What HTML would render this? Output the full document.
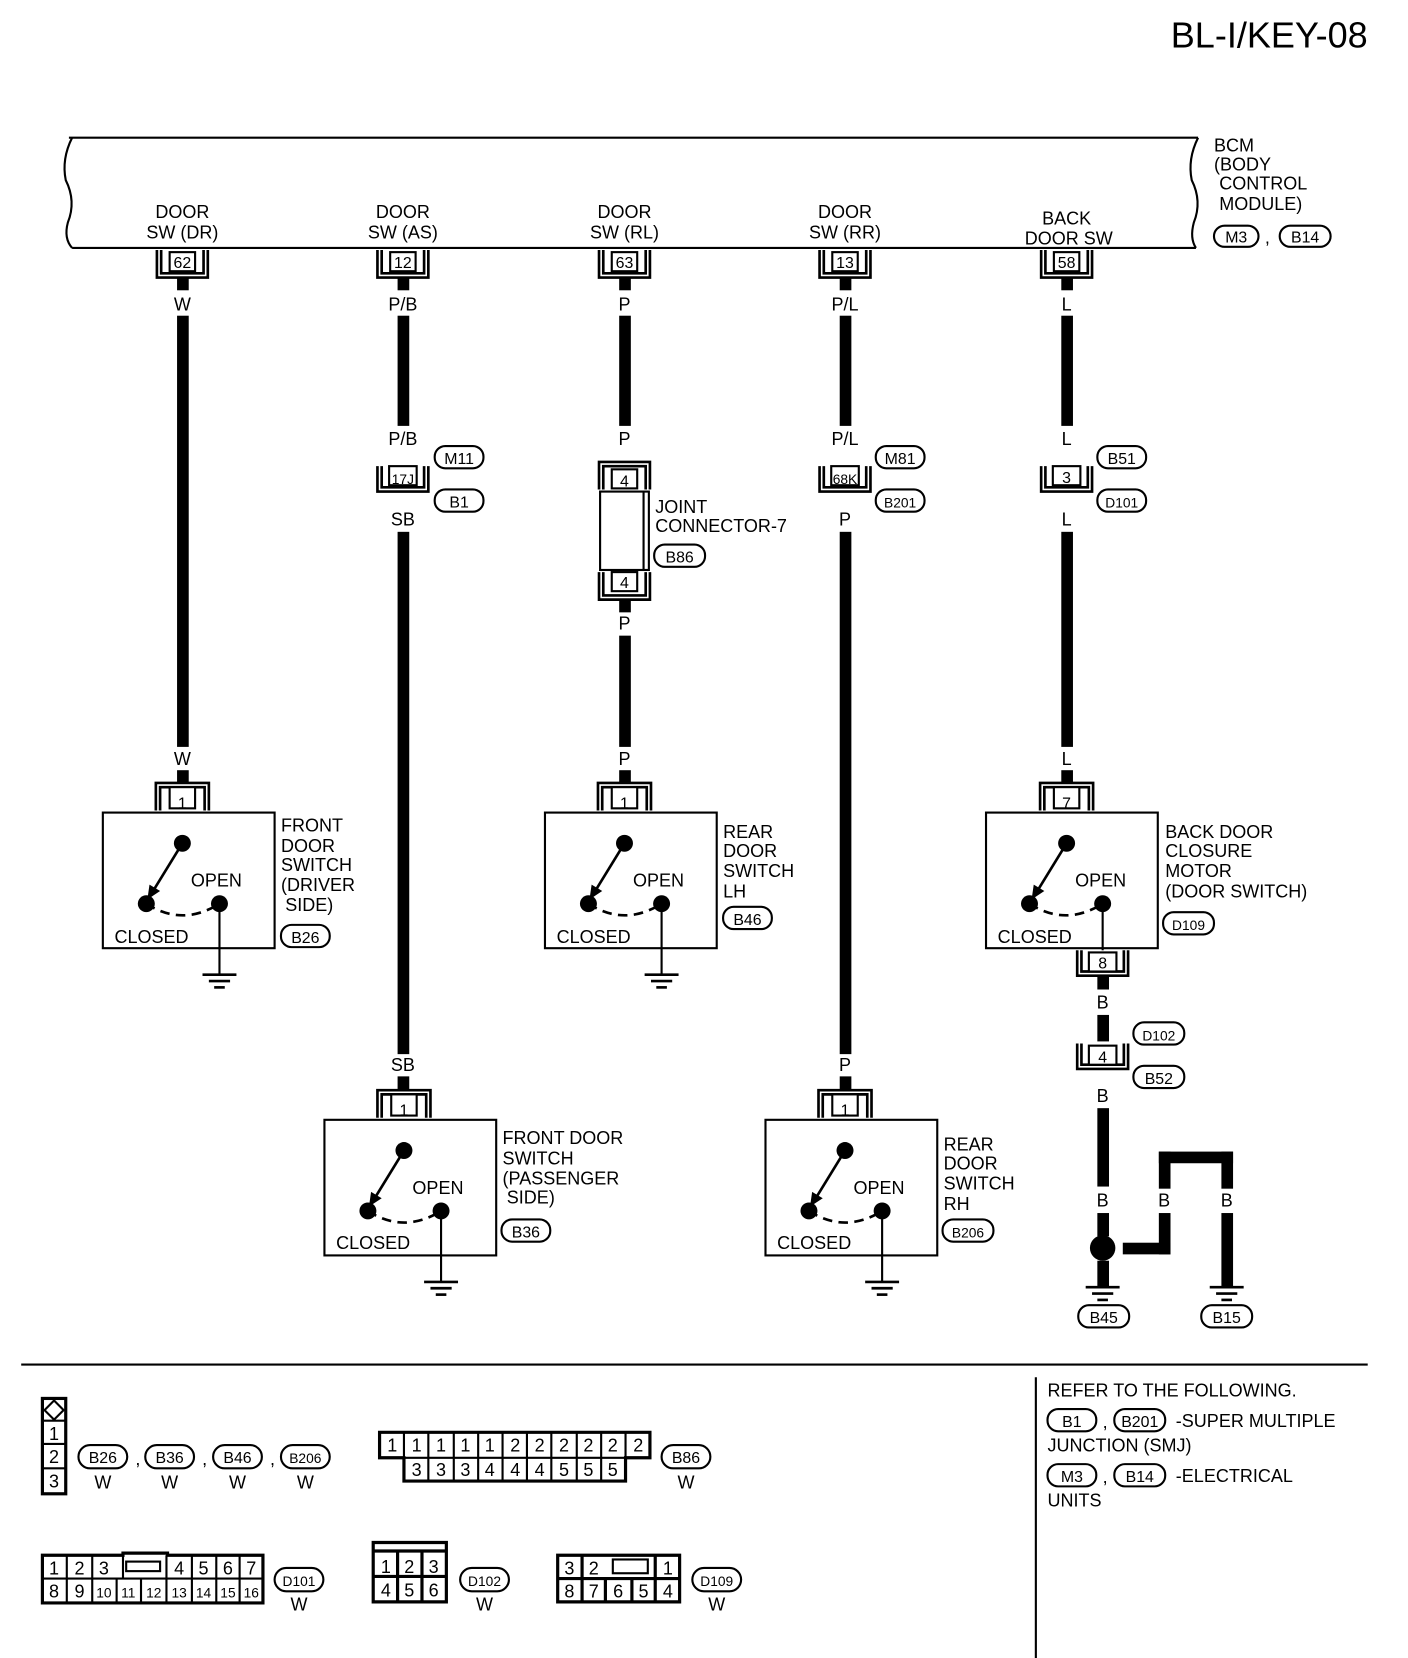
<!DOCTYPE html>
<html><head><meta charset="utf-8"><style>
html,body{margin:0;padding:0;background:#fff}
svg{display:block}
text{font-family:"Liberation Sans",sans-serif;font-size:17px;fill:#000}
.s{font-size:15px}
.c{text-anchor:middle}
</style></head><body>
<svg width="1408" height="1658" viewBox="0 0 1328 1565" preserveAspectRatio="none" xmlns="http://www.w3.org/2000/svg">
<defs>
<g id="sw">
<rect x="0" y="0" width="162" height="128" fill="none" stroke="#000" stroke-width="2"/>
<circle cx="75" cy="29" r="8"/>
<line x1="75" y1="29" x2="48" y2="73" stroke="#000" stroke-width="2.5"/>
<path d="M42,82 L44,68 L54,74 Z"/>
<circle cx="41" cy="86" r="8"/><circle cx="110" cy="86" r="8"/>
<path d="M41,86 Q75,108 110,86" fill="none" stroke="#000" stroke-width="2.5" stroke-dasharray="9,6"/>
<line x1="110" y1="86" x2="110" y2="153" stroke="#000" stroke-width="2"/>
<path d="M50,-2 V-28 H100 V-2 M54,-2 V-24 H96 V-2" fill="none" stroke="#000" stroke-width="2.5"/>
<rect x="63" y="-24" width="24" height="20" fill="#fff" stroke="#000" stroke-width="2"/>
</g>
<g id="gnd" stroke="#000" stroke-width="2.5"><line x1="-16" y1="0" x2="16" y2="0"/><line x1="-10" y1="6" x2="10" y2="6"/><line x1="-5" y1="12" x2="5" y2="12"/></g>
<g id="tc" fill="none" stroke="#000" stroke-width="2.5"><path d="M-24,0 V26 H24 V0 M-20,0 V22 H20 V0"/><rect x="-12" y="2" width="24" height="18" fill="#fff" stroke-width="2"/></g>
</defs>

<text x="1290" y="45" style="font-size:34px" text-anchor="end">BL-I/KEY-08</text>

<path d="M65,130 H1130 M68,234 H1128" stroke="#000" stroke-width="2"/>
<path d="M68,130 Q58,150 62,170 Q72,190 64,210 Q60,225 68,234" fill="none" stroke="#000" stroke-width="2"/>
<path d="M1130,130 Q1120,150 1124,170 Q1134,190 1126,210 Q1122,225 1128,234" fill="none" stroke="#000" stroke-width="2"/>
<text x="1145" y="143">BCM</text><text x="1145" y="161">(BODY</text><text x="1150" y="179">CONTROL</text><text x="1150" y="198">MODULE)</text>
<rect x="1145" y="213" width="42" height="20" rx="10" fill="none" stroke="#000" stroke-width="2"/><text x="1166" y="229" class="c s">M3</text>
<text x="1193" y="230">,</text>
<rect x="1207" y="213" width="48" height="20" rx="10" fill="none" stroke="#000" stroke-width="2"/><text x="1231" y="229" class="c s">B14</text>

<text x="172" y="206" class="c">DOOR</text><text x="172" y="225" class="c">SW (DR)</text>
<text x="380" y="206" class="c">DOOR</text><text x="380" y="225" class="c">SW (AS)</text>
<text x="589" y="206" class="c">DOOR</text><text x="589" y="225" class="c">SW (RL)</text>
<text x="797" y="206" class="c">DOOR</text><text x="797" y="225" class="c">SW (RR)</text>
<text x="1006" y="212" class="c">BACK</text><text x="1008" y="231" class="c">DOOR SW</text>

<use href="#tc" x="172" y="236"/><text x="172" y="253" class="c s">62</text>
<use href="#tc" x="380" y="236"/><text x="380" y="253" class="c s">12</text>
<use href="#tc" x="589" y="236"/><text x="589" y="253" class="c s">63</text>
<use href="#tc" x="797" y="236"/><text x="797" y="253" class="c s">13</text>
<use href="#tc" x="1006" y="236"/><text x="1006" y="253" class="c s">58</text>

<g fill="#000">
<rect x="167" y="262" width="11" height="12"/><text x="172" y="293" class="c">W</text>
<rect x="167" y="298" width="11" height="407"/><text x="172" y="722" class="c">W</text>
<rect x="167" y="727" width="11" height="12"/>
<rect x="375" y="262" width="11" height="12"/><text x="380" y="293" class="c">P/B</text>
<rect x="375" y="298" width="11" height="104"/><text x="380" y="420" class="c">P/B</text>
<text x="380" y="496" class="c">SB</text>
<rect x="375" y="502" width="11" height="493"/><text x="380" y="1011" class="c">SB</text>
<rect x="375" y="1016" width="11" height="12"/>
<rect x="584" y="262" width="11" height="12"/><text x="589" y="293" class="c">P</text>
<rect x="584" y="298" width="11" height="104"/><text x="589" y="420" class="c">P</text>
<rect x="584" y="566" width="11" height="12"/><text x="589" y="594" class="c">P</text>
<rect x="584" y="600" width="11" height="105"/><text x="589" y="722" class="c">P</text>
<rect x="584" y="727" width="11" height="12"/>
<rect x="792" y="262" width="11" height="12"/><text x="797" y="293" class="c">P/L</text>
<rect x="792" y="298" width="11" height="104"/><text x="797" y="420" class="c">P/L</text>
<text x="797" y="496" class="c">P</text>
<rect x="792" y="502" width="11" height="493"/><text x="797" y="1011" class="c">P</text>
<rect x="792" y="1016" width="11" height="12"/>
<rect x="1001" y="262" width="11" height="12"/><text x="1006" y="293" class="c">L</text>
<rect x="1001" y="298" width="11" height="104"/><text x="1006" y="420" class="c">L</text>
<text x="1006" y="496" class="c">L</text>
<rect x="1001" y="502" width="11" height="203"/><text x="1006" y="722" class="c">L</text>
<rect x="1001" y="727" width="11" height="12"/>
<rect x="1035" y="922" width="11" height="12"/><text x="1040" y="952" class="c">B</text>
<rect x="1035" y="958" width="11" height="25"/>
<text x="1040" y="1040" class="c">B</text>
<rect x="1035" y="1046" width="11" height="74"/><text x="1040" y="1139" class="c">B</text>
<rect x="1035" y="1145" width="11" height="22"/>
<circle cx="1040" cy="1178" r="12"/>
<rect x="1035" y="1190" width="11" height="24"/>
<rect x="1059" y="1173" width="45" height="11"/>
<rect x="1093" y="1145" width="11" height="39"/><text x="1098" y="1139" class="c">B</text>
<rect x="1093" y="1087" width="11" height="35"/>
<rect x="1093" y="1087" width="70" height="11"/>
<rect x="1152" y="1087" width="11" height="35"/><text x="1157" y="1139" class="c">B</text>
<rect x="1152" y="1145" width="11" height="69"/>
</g>
<use href="#gnd" x="1040" y="1215"/><use href="#gnd" x="1157" y="1215"/>
<rect x="1017" y="1232" width="48" height="21" rx="10" fill="none" stroke="#000" stroke-width="2"/><text x="1041" y="1249" class="c s">B45</text>
<rect x="1133" y="1232" width="48" height="21" rx="10" fill="none" stroke="#000" stroke-width="2"/><text x="1157" y="1249" class="c s">B15</text>

<g fill="none" stroke="#000" stroke-width="2.5">
<path d="M356,440 V464 H404 V440 M360,440 V460 H400 V440"/>
<path d="M773,440 V464 H821 V440 M777,440 V460 H817 V440"/>
<path d="M982,440 V464 H1030 V440 M986,440 V460 H1026 V440"/>
<path d="M1016,985 V1009 H1064 V985 M1020,985 V1005 H1060 V985"/>
<path d="M1016,897 V921 H1064 V897 M1020,897 V917 H1060 V897"/>
</g>
<g fill="#fff" stroke="#000" stroke-width="2">
<rect x="367" y="440" width="26" height="18"/><rect x="784" y="440" width="26" height="18"/><rect x="993" y="440" width="26" height="18"/>
<rect x="1027" y="987" width="26" height="18"/><rect x="1027" y="899" width="26" height="18"/>
</g>
<text x="380" y="457" class="c" style="font-size:13px">17J</text>
<text x="797" y="457" class="c" style="font-size:13px">68K</text>
<text x="1006" y="456" class="c s">3</text>
<text x="1040" y="1003" class="c s">4</text>
<text x="1040" y="914" class="c s">8</text>

<g fill="none" stroke="#000" stroke-width="2">
<rect x="410" y="421" width="46" height="21" rx="10"/><rect x="410" y="462" width="46" height="21" rx="10"/>
<rect x="826" y="421" width="46" height="21" rx="10"/><rect x="826" y="462" width="46" height="21" rx="10"/>
<rect x="1035" y="421" width="46" height="21" rx="10"/><rect x="1035" y="462" width="46" height="21" rx="10"/>
<rect x="1069" y="965" width="48" height="21" rx="10"/><rect x="1069" y="1006" width="48" height="21" rx="10"/>
<rect x="617" y="514" width="48" height="21" rx="10"/>
<rect x="265" y="873" width="46" height="21" rx="10"/><rect x="682" y="856" width="46" height="21" rx="10"/>
<rect x="1097" y="861" width="48" height="21" rx="10"/><rect x="473" y="1151" width="46" height="21" rx="10"/>
<rect x="889" y="1151" width="48" height="21" rx="10"/>
</g>
<g class="s">
<text x="433" y="438" class="c s">M11</text><text x="433" y="479" class="c s">B1</text>
<text x="849" y="438" class="c s">M81</text><text x="849" y="479" class="c s" style="font-size:13px">B201</text>
<text x="1058" y="438" class="c s">B51</text><text x="1058" y="479" class="c s" style="font-size:13px">D101</text>
<text x="1093" y="982" class="c s" style="font-size:13px">D102</text><text x="1093" y="1023" class="c s">B52</text>
<text x="641" y="531" class="c s">B86</text>
<text x="288" y="890" class="c s">B26</text><text x="705" y="873" class="c s">B46</text>
<text x="1121" y="878" class="c s" style="font-size:13px">D109</text><text x="496" y="1168" class="c s">B36</text>
<text x="913" y="1168" class="c s" style="font-size:13px">B206</text>
</g>

<g fill="none" stroke="#000" stroke-width="2.5">
<path d="M565,462 V436 H613 V462 M569,462 V440 H609 V462"/>
<path d="M565,540 V566 H613 V540 M569,540 V562 H609 V540"/>
<rect x="566" y="464" width="46" height="74" stroke-width="2"/>
<line x1="607" y1="464" x2="607" y2="538" stroke-width="2"/>
</g>
<rect x="577" y="443" width="24" height="18" fill="#fff" stroke="#000" stroke-width="2"/><text x="589" y="459" class="c s">4</text>
<rect x="577" y="540" width="24" height="18" fill="#fff" stroke="#000" stroke-width="2"/><text x="589" y="555" class="c s">4</text>
<text x="618" y="484">JOINT</text><text x="618" y="502">CONNECTOR-7</text>

<use href="#sw" x="97" y="767"/><use href="#gnd" x="207" y="920"/>
<text x="172" y="763" class="c s">1</text><text x="180" y="837">OPEN</text><text x="108" y="890">CLOSED</text>
<text x="265" y="785">FRONT</text><text x="265" y="804">DOOR</text><text x="265" y="822">SWITCH</text><text x="265" y="841">(DRIVER</text><text x="269" y="860">SIDE)</text>

<use href="#sw" x="514" y="767"/><use href="#gnd" x="624" y="920"/>
<text x="589" y="763" class="c s">1</text><text x="597" y="837">OPEN</text><text x="525" y="890">CLOSED</text>
<text x="682" y="791">REAR</text><text x="682" y="809">DOOR</text><text x="682" y="828">SWITCH</text><text x="682" y="847">LH</text>

<use href="#sw" x="306" y="1057"/><use href="#gnd" x="416" y="1210"/>
<text x="381" y="1053" class="c s">1</text><text x="389" y="1127">OPEN</text><text x="317" y="1179">CLOSED</text>
<text x="474" y="1080">FRONT DOOR</text><text x="474" y="1099">SWITCH</text><text x="474" y="1118">(PASSENGER</text><text x="478" y="1136">SIDE)</text>

<use href="#sw" x="722" y="1057"/><use href="#gnd" x="832" y="1210"/>
<text x="797" y="1053" class="c s">1</text><text x="805" y="1127">OPEN</text><text x="733" y="1179">CLOSED</text>
<text x="890" y="1086">REAR</text><text x="890" y="1104">DOOR</text><text x="890" y="1123">SWITCH</text><text x="890" y="1142">RH</text>

<g>
<rect x="930" y="767" width="162" height="128" fill="none" stroke="#000" stroke-width="2"/>
<circle cx="1006" cy="796" r="8"/><line x1="1006" y1="796" x2="979" y2="840" stroke="#000" stroke-width="2.5"/>
<path d="M973,849 L975,835 L985,841 Z"/>
<circle cx="971" cy="853" r="8"/><circle cx="1040" cy="853" r="8"/>
<path d="M971,853 Q1005,875 1040,853" fill="none" stroke="#000" stroke-width="2.5" stroke-dasharray="9,6"/>
<line x1="1040" y1="853" x2="1040" y2="897" stroke="#000" stroke-width="2"/>
<path d="M981,765 V739 H1031 V765 M985,765 V743 H1027 V765" fill="none" stroke="#000" stroke-width="2.5"/>
<rect x="994" y="743" width="24" height="20" fill="#fff" stroke="#000" stroke-width="2"/>
</g>
<text x="1006" y="763" class="c s">7</text><text x="1014" y="837">OPEN</text><text x="941" y="890">CLOSED</text>
<text x="1099" y="791">BACK DOOR</text><text x="1099" y="809">CLOSURE</text><text x="1099" y="828">MOTOR</text><text x="1099" y="847">(DOOR SWITCH)</text>

<line x1="20" y1="1288" x2="1290" y2="1288" stroke="#000" stroke-width="2"/>
<line x1="977" y1="1300" x2="977" y2="1565" stroke="#000" stroke-width="2"/>
<text x="988" y="1318">REFER TO THE FOLLOWING.</text>
<g fill="none" stroke="#000" stroke-width="2"><rect x="988" y="1330" width="46" height="21" rx="10"/><rect x="1051" y="1330" width="48" height="21" rx="10"/><rect x="988" y="1382" width="46" height="21" rx="10"/><rect x="1051" y="1382" width="48" height="21" rx="10"/></g>
<text x="1011" y="1347" class="c s">B1</text><text x="1040" y="1348">,</text><text x="1075" y="1347" class="c s">B201</text>
<text x="1109" y="1347">-SUPER MULTIPLE</text><text x="988" y="1370">JUNCTION (SMJ)</text>
<text x="1011" y="1399" class="c s">M3</text><text x="1040" y="1400">,</text><text x="1075" y="1399" class="c s">B14</text>
<text x="1109" y="1399">-ELECTRICAL</text><text x="988" y="1422">UNITS</text>

<g fill="none" stroke="#000" stroke-width="2">
<rect x="40" y="1320" width="22" height="90" stroke-width="3"/>
<path d="M40,1341 H62 M40,1363 H62 M40,1386 H62 M51,1322 L60,1331 L51,1340 L42,1331 Z"/>
<rect x="74" y="1364" width="46" height="22" rx="11"/><rect x="137" y="1364" width="46" height="22" rx="11"/><rect x="201" y="1364" width="46" height="22" rx="11"/><rect x="265" y="1364" width="46" height="22" rx="11"/>
<rect x="624" y="1364" width="46" height="22" rx="11"/>
<path d="M358,1352 H613 V1376 H590 V1398 H381 V1376 H358 Z" stroke-width="3"/>
<rect x="259" y="1480" width="46" height="22" rx="11"/><rect x="434" y="1480" width="46" height="22" rx="11"/><rect x="653" y="1480" width="46" height="22" rx="11"/>
<path d="M40,1468 H116 V1466 H158 V1468 H248 V1513 H40 Z" stroke-width="3"/>
<path d="M40,1490 H248"/>
<path d="M352,1456 H421 V1512 H352 Z M352,1464 H421 M352,1488 H421 M375,1464 V1512 M398,1464 V1512" stroke-width="3"/>
<path d="M526,1468 H641 V1512 H526 Z M526,1490 H641 M549,1468 V1512 M571,1490 V1512 M596,1490 V1512 M618,1468 V1512" stroke-width="3"/>
<rect x="578" y="1472" width="33" height="13"/>
<rect x="119" y="1474" width="32" height="9"/>
</g>
<g style="font-size:16px" class="c">
<text x="51" y="1359">1</text><text x="51" y="1381">2</text><text x="51" y="1404">3</text>
<text x="97" y="1381" class="s">B26</text><text x="130" y="1383">,</text><text x="160" y="1381" class="s">B36</text><text x="193" y="1383">,</text><text x="224" y="1381" class="s">B46</text><text x="257" y="1383">,</text><text x="288" y="1381" style="font-size:13px">B206</text>
<text x="97" y="1405">W</text><text x="160" y="1405">W</text><text x="224" y="1405">W</text><text x="288" y="1405">W</text>
<text x="647" y="1381" class="s">B86</text><text x="647" y="1405">W</text>
<text x="282" y="1497" style="font-size:13px">D101</text><text x="282" y="1520">W</text>
<text x="457" y="1497" style="font-size:13px">D102</text><text x="457" y="1520">W</text>
<text x="676" y="1497" style="font-size:13px">D109</text><text x="676" y="1520">W</text>
</g>
<g fill="none" stroke="#000" stroke-width="2">
<path d="M381,1352 V1376 M404,1352 V1398 M428,1352 V1398 M451,1352 V1398 M474,1352 V1398 M497,1352 V1398 M520,1352 V1398 M544,1352 V1398 M567,1352 V1398 M590,1352 V1376 M381,1376 H590"/>
<path d="M63,1468 V1513 M87,1468 V1513 M110,1490 V1513 M133,1490 V1513 M157,1468 V1513 M181,1468 V1513 M204,1468 V1513 M226,1468 V1513 M116,1468 V1490"/>
</g>
<g style="font-size:16px" class="c">
<text x="370" y="1370">1</text><text x="393" y="1370">1</text><text x="416" y="1370">1</text><text x="439" y="1370">1</text><text x="462" y="1370">1</text><text x="486" y="1370">2</text><text x="509" y="1370">2</text><text x="532" y="1370">2</text><text x="555" y="1370">2</text><text x="578" y="1370">2</text><text x="602" y="1370">2</text>
<text x="393" y="1393">3</text><text x="416" y="1393">3</text><text x="439" y="1393">3</text><text x="462" y="1393">4</text><text x="486" y="1393">4</text><text x="509" y="1393">4</text><text x="532" y="1393">5</text><text x="555" y="1393">5</text><text x="578" y="1393">5</text>
<text x="51" y="1486">1</text><text x="75" y="1486">2</text><text x="98" y="1486">3</text><text x="169" y="1486">4</text><text x="192" y="1486">5</text><text x="215" y="1486">6</text><text x="237" y="1486">7</text>
<text x="51" y="1508">8</text><text x="75" y="1508">9</text><text x="98" y="1508" style="font-size:13px">10</text><text x="121" y="1508" style="font-size:13px">11</text><text x="145" y="1508" style="font-size:13px">12</text><text x="169" y="1508" style="font-size:13px">13</text><text x="192" y="1508" style="font-size:13px">14</text><text x="215" y="1508" style="font-size:13px">15</text><text x="237" y="1508" style="font-size:13px">16</text>
<text x="364" y="1485">1</text><text x="386" y="1485">2</text><text x="409" y="1485">3</text><text x="364" y="1507">4</text><text x="386" y="1507">5</text><text x="409" y="1507">6</text>
<text x="537" y="1486">3</text><text x="560" y="1486">2</text><text x="630" y="1486">1</text>
<text x="537" y="1508">8</text><text x="560" y="1508">7</text><text x="583" y="1508">6</text><text x="607" y="1508">5</text><text x="630" y="1508">4</text>
</g>
</svg>
</body></html>
